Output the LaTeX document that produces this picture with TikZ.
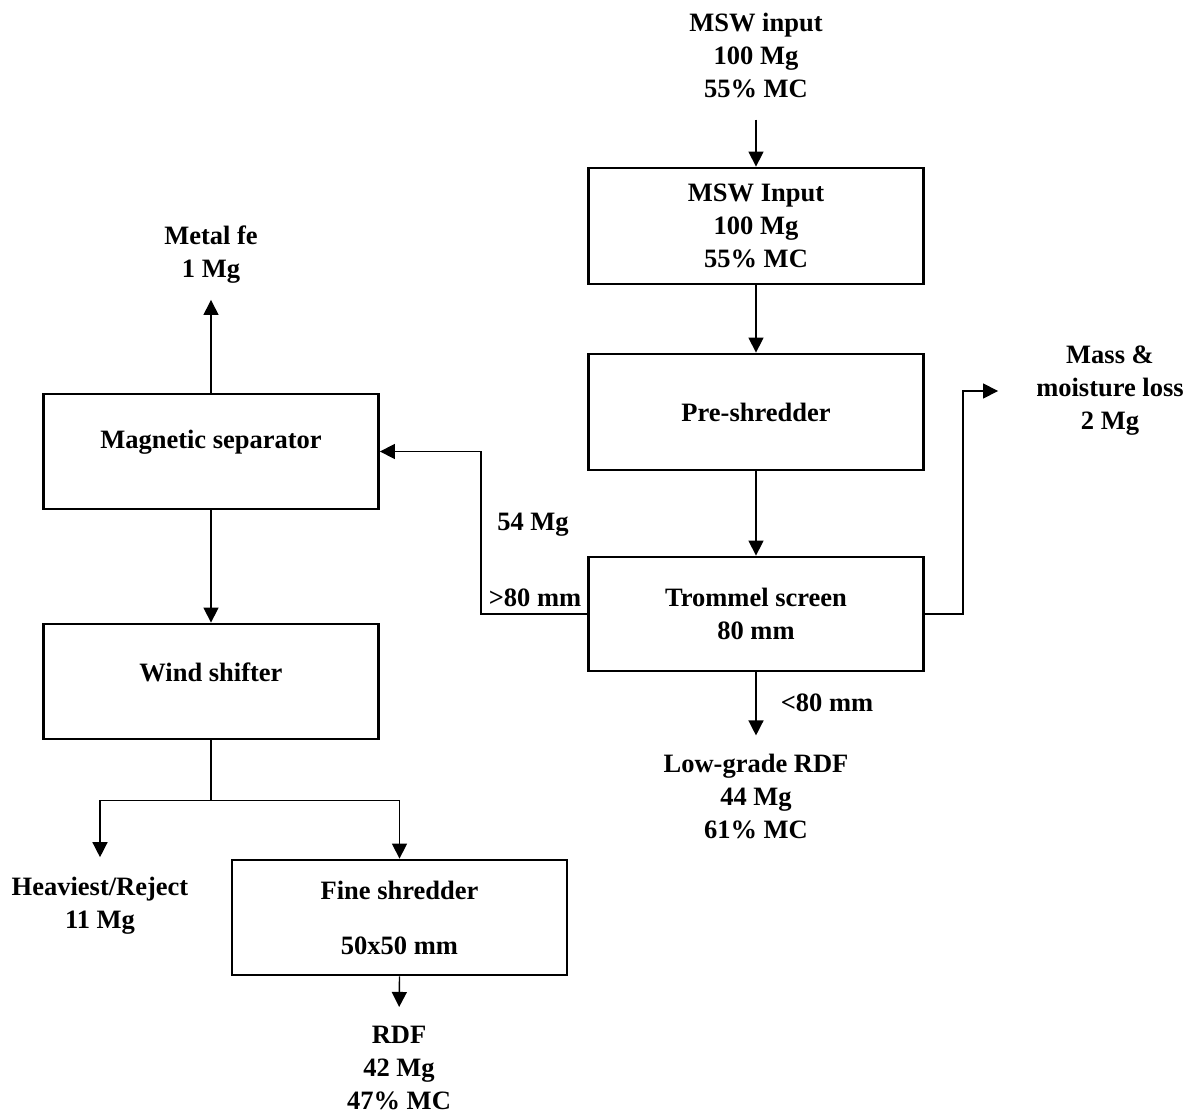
\documentclass[tikz,border=0pt]{standalone}
\usepackage{fontspec}
\setmainfont{Liberation Serif}
\usetikzlibrary{arrows.meta}

\tikzset{
  procbox/.style={draw, line width=2.8pt, minimum width=335pt, inner sep=0pt,
                  align=center, font=\bfseries\fontsize{26.5}{33}\selectfont},
  flowtext/.style={align=center, inner sep=2pt, font=\bfseries\fontsize{26.5}{33}\selectfont},
  flow/.style={line width=1.4pt},
  arr/.style={flow, -{Triangle[length=15pt,width=15pt]}},
}

\begin{document}
\begin{tikzpicture}[x=1pt, y=-1pt]
  \useasboundingbox (0,0) rectangle (1194,1110);

  % right column: input and screening
  \node[flowtext] (inTxt) at (756,55) {MSW input\\100 Mg\\55\% MC};
  \node[procbox, minimum height=116pt] (msw) at (756,226) {MSW Input\\100 Mg\\55\% MC};
  \node[procbox, minimum height=116pt] (pre) at (756,412) {Pre-shredder};
  \node[procbox, minimum height=114pt] (trom) at (756,614) {Trommel screen\\80 mm};
  \node[flowtext] (massTxt) at (1110,391) {Mass \&\\moisture loss\\2 Mg};
  \node[flowtext] (lowTxt) at (756,796) {Low-grade RDF\\44 Mg\\61\% MC};
  \node[flowtext] (ltLab) at (827,703) {<80 mm};

  % left column: separation and fine shredding
  \node[procbox, minimum height=115pt] (mag) at (211,451.5) {};
  \node[flowtext] (magTxt) at (211,442) {Magnetic separator};
  \node[flowtext] (metalTxt) at (211,255) {Metal fe\\1 Mg};
  \node[procbox, minimum height=115pt] (wind) at (211,681.5) {};
  \node[flowtext] (windTxt) at (211,672) {Wind shifter};
  \node[flowtext] (heavyTxt) at (100,906) {Heaviest/Reject\\11 Mg};
  \node[procbox, minimum height=115pt] (fine) at (399.5,917.5) {Fine shredder\\[22pt]50x50 mm};
  \node[flowtext] (rdfTxt) at (399,1068) {RDF\\42 Mg\\47\% MC};

  % oversize stream labels
  \node[flowtext] (massLab) at (533,525) {54 Mg};
  \node[flowtext] (gtLab) at (535,598) {>80 mm};

  % main line
  \draw[arr, shorten <=20pt] (inTxt) -- (msw);
  \draw[arr] (msw) -- (pre);
  \draw[arr] (pre) -- (trom);
  \draw[arr, shorten >=16pt] (trom.south) -- (lowTxt.north);
  \draw[arr, shorten >=36pt] (trom.east) -- ++(38,0) |- (massTxt.west);
  \draw[arr] (trom.west) -- ++(-106,0) |- (mag.east);

  % left branch
  \draw[arr, shorten >=14pt] (mag.north) -- (metalTxt.south);
  \draw[arr] (mag) -- (wind);
  \draw[flow] (wind.south) -- ++(0,60) coordinate (split);
  \draw[arr, shorten >=18pt] (split) -| (heavyTxt.north);
  \draw[arr] (split) -| (fine.north);
  \draw[arr, shorten >=17pt] (fine.south) -- (rdfTxt.north);
\end{tikzpicture}
\end{document}
